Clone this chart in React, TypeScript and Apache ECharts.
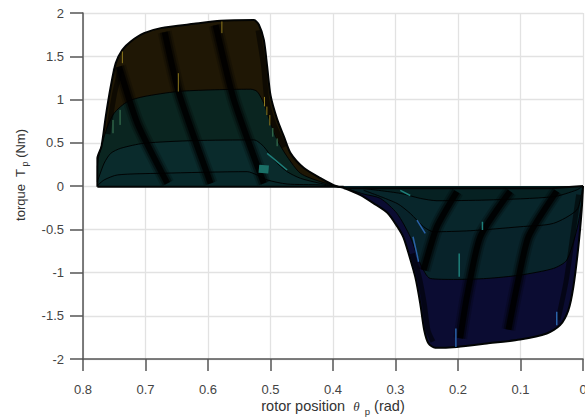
import React, { useEffect, useRef } from "react";
import * as echarts from "echarts";

type P = [number, number];
const xTicks = [0, 0.1, 0.2, 0.3, 0.4, 0.5, 0.6, 0.7, 0.8];
const yTicks = [-2, -1.5, -1, -0.5, 0, 0.5, 1, 1.5, 2];

const pos1: P[] = [[0.777,-0.01],[0.777,0.32],[0.7705,0.455],[0.7636,0.803],[0.7556,1.15],[0.7476,1.42],[0.737,1.574],[0.7236,1.671],[0.7024,1.767],[0.6757,1.825],[0.6225,1.875],[0.58,1.91],[0.5266,1.918],[0.5186,1.864],[0.5107,1.69],[0.5053,1.38],[0.5,1.05],[0.4893,0.77],[0.479,0.58],[0.468,0.38],[0.447,0.21],[0.42,0.09],[0.399,0.01],[0.383,-0.02]];
const pos2: P[] = [[0.777,0.05],[0.777,0.224],[0.7636,0.629],[0.7503,0.841],[0.7289,0.976],[0.7024,1.034],[0.6491,1.092],[0.5958,1.111],[0.5319,1.119],[0.5213,1.092],[0.5107,0.957],[0.5,0.725],[0.4893,0.533],[0.4734,0.34],[0.4521,0.147],[0.42,0.05],[0.383,-0.02]];
const pos3: P[] = [[0.777,0.05],[0.7662,0.263],[0.7556,0.378],[0.7396,0.436],[0.7024,0.494],[0.6225,0.525],[0.5266,0.533],[0.5107,0.455],[0.4947,0.301],[0.4734,0.166],[0.4521,0.089],[0.42,0.03],[0.383,-0.02]];
const pos4: P[] = [[0.777,0.004],[0.7662,0.07],[0.7449,0.128],[0.6757,0.147],[0.5373,0.166],[0.5213,0.127],[0.5053,0.07],[0.4734,0.023],[0.42,0.012],[0.383,-0.02]];

const neg1: P[] = [[0.383,-0.02],[0.356,-0.105],[0.335,-0.2],[0.313,-0.31],[0.297,-0.47],[0.2875,-0.59],[0.279,-0.78],[0.2684,-1.05],[0.2604,-1.358],[0.254,-1.667],[0.2471,-1.821],[0.2364,-1.871],[0.2018,-1.86],[0.1539,-1.821],[0.1006,-1.775],[0.058,-1.705],[0.0367,-1.609],[0.0234,-1.435],[0.0154,-1.165],[0.0074,-0.702],[0.0021,-0.278],[0,0]];
const neg2: P[] = [[0.383,-0.02],[0.3509,-0.093],[0.3243,-0.143],[0.2976,-0.317],[0.2764,-0.587],[0.2604,-0.895],[0.2444,-1.069],[0.2071,-1.08],[0.1539,-1.069],[0.1006,-1.03],[0.0474,-0.953],[0.026,-0.857],[0.0101,-0.509],[0.0021,-0.201],[0,-0.008]];
const neg3: P[] = [[0.3509,-0.05],[0.2976,-0.201],[0.2764,-0.317],[0.255,-0.471],[0.2391,-0.529],[0.1805,-0.517],[0.1006,-0.471],[0.0474,-0.432],[0.0101,-0.278],[0.0021,-0.085],[0,0]];
const neg4: P[] = [[0.3509,-0.03],[0.2923,-0.085],[0.2604,-0.143],[0.2337,-0.17],[0.1539,-0.162],[0.0474,-0.124],[0.0101,-0.046],[0,0]];

const posBase: P[] = [[0.777,-0.01],[0.383,-0.01]];
const negBase: P[] = [[0.383,-0.025],[0.05,-0.025],[0,0]];

const stripes: P[][] = [
  [[0.7423,1.38],[0.713,0.725],[0.665,0.03]],
  [[0.6693,1.78],[0.6465,1.073],[0.5958,0.03]],
  [[0.5879,1.86],[0.5586,0.996],[0.5107,0.03]],
  [[0.255,-0.972],[0.2337,-0.471],[0.2018,-0.066]],
  [[0.1965,-1.76],[0.1858,-1.281],[0.1645,-0.587],[0.1166,-0.06]],
  [[0.1193,-1.66],[0.1059,-1.165],[0.0873,-0.587],[0.042,-0.06]],
];
const edgeBands: P[][] = [
  [[0.52,1.8],[0.511,1.38],[0.506,1],[0.495,0.72],[0.478,0.45]],
  [[0.273,-0.78],[0.262,-1.05],[0.254,-1.358],[0.248,-1.667],[0.24,-1.8]],
  [[0.04,-1.55],[0.027,-1.1],[0.015,-0.5],[0.007,-0.1]],
  [[0.76,0.6],[0.75,1.05],[0.74,1.35]],
];

const yellowStreaks: P[][] = [
  [[0.737,1.555],[0.737,1.42]],
  [[0.6475,1.304],[0.6475,1.092]],
  [[0.5778,1.902],[0.5778,1.767]],
  [[0.5096,1.03],[0.5096,0.92]],
  [[0.5058,0.918],[0.5058,0.82]],
  [[0.5011,0.82],[0.5011,0.7]],
];
const greenStreaks: P[][] = [
  [[0.7407,0.88],[0.7407,0.706]],
  [[0.752,0.764],[0.752,0.61]],
  [[0.4963,0.67],[0.4963,0.57]],
  [[0.4894,0.55],[0.4894,0.46]],
];
const tealStreaks: P[][] = [
  [[0.5053,0.378],[0.4734,0.185]],
  [[0.1981,-0.78],[0.1981,-1.05]],
  [[0.1609,-0.413],[0.1609,-0.51]],
  [[0.2923,-0.05],[0.2764,-0.11]],
];
const blueStreaks: P[][] = [
  [[0.2034,-1.648],[0.2034,-1.86]],
  [[0.042,-1.455],[0.042,-1.609]],
  [[0.2657,-0.394],[0.2524,-0.548]],
  [[0.272,-0.587],[0.263,-0.876]],
];
const tealBlock: P[] = [[0.5186,0.2],[0.503,0.19]];

const surface = (data: P[], fill: string, width = 1) => ({
  type: "line", data, showSymbol: false, symbol: "none", silent: true, smooth: 0.25,
  lineStyle: { color: "#020404", width }, areaStyle: { color: fill, opacity: 1 },
});
const stroke = (data: P[], color: string, width: number, opacity = 1, smooth = 0.2) => ({
  type: "line", data, showSymbol: false, symbol: "none", silent: true, smooth,
  lineStyle: { color, width, opacity, cap: "butt" },
});

const option: any = {
  animation: false,
  backgroundColor: "#ffffff",
  grid: { left: 83, right: 2, top: 13, bottom: 59, containLabel: false, outerBoundsMode: "none" },
  xAxis: {
    type: "value", inverse: true, min: 0, max: 0.8, interval: 0.1,
    axisLine: { onZero: false, lineStyle: { color: "#555", width: 1.5 } },
    axisTick: { length: 12, lineStyle: { color: "#555", width: 1.5 } },
    axisLabel: { margin: 24, color: "#444", fontFamily: "Liberation Sans", fontSize: 13, hideOverlap: false,
      formatter: (v: number) => String(xTicks.find((t) => Math.abs(t - v) < 1e-6) ?? v) },
    splitLine: { show: true, lineStyle: { color: "#e2e2e2", width: 1.3 } },
    name: "{a|rotor position  }{t|\u03b8}{s|  p}{a| (rad)}",
    nameLocation: "middle", nameGap: 37, nameMoveOverlap: false,
    nameTextStyle: { rich: {
      a: { fontFamily: "Liberation Sans", fontSize: 14.5, color: "#333" },
      t: { fontFamily: "Liberation Serif", fontStyle: "italic", fontSize: 13, color: "#333" },
      s: { fontFamily: "Liberation Sans", fontSize: 9.5, color: "#333", padding: [10, 0, 0, 0] },
    } },
  },
  yAxis: {
    type: "value", min: -2, max: 2, interval: 0.5, position: "left",
    axisLine: { show: true, onZero: false, lineStyle: { color: "#555", width: 1.5 } },
    axisTick: { show: true, length: 13, lineStyle: { color: "#555", width: 1.5 } },
    axisLabel: { margin: 19, color: "#444", fontFamily: "Liberation Sans", fontSize: 13,
      formatter: (v: number) => String(yTicks.find((t) => Math.abs(t - v) < 1e-6) ?? v) },
    splitLine: { show: true, lineStyle: { color: "#e2e2e2", width: 1.3 } },
    name: "{a|torque  T}{s| p}{a| (Nm)}",
    nameLocation: "middle", nameGap: 54, nameRotate: 90, nameMoveOverlap: false,
    nameTextStyle: { padding: [0, 0, 0, 22], rich: {
      a: { fontFamily: "Liberation Sans", fontSize: 13, color: "#333" },
      s: { fontFamily: "Liberation Sans", fontSize: 9, color: "#333", padding: [8, 0, 0, 0] },
    } },
  },
  series: [
    surface(pos1, "#1f1705", 2),
    surface(pos2, "#0a2520"),
    surface(pos3, "#0a2b2c"),
    surface(pos4, "#08282a"),
    surface(neg1, "#0b0c32", 2),
    surface(neg2, "#08232a"),
    surface(neg3, "#08262b"),
    surface(neg4, "#062122"),
    stroke(posBase, "#020404", 2, 1, 0),
    stroke(negBase, "#020404", 2, 1, 0),
    ...stripes.map((s) => stroke(s, "#000", 14, 0.2)),
    ...stripes.map((s) => stroke(s, "#000", 10, 0.4)),
    ...stripes.map((s) => stroke(s, "#000", 6, 0.85)),
    ...edgeBands.map((s) => stroke(s, "#000", 5, 0.55)),
    stroke(tealBlock, "#1a6f66", 8, 1, 0),
    ...yellowStreaks.map((s) => stroke(s, "#8f7a1e", 1, 1, 0)),
    ...greenStreaks.map((s) => stroke(s, "#3f7f58", 1, 1, 0)),
    ...tealStreaks.map((s) => stroke(s, "#1f7f7a", 1.5, 1, 0)),
    ...blueStreaks.map((s) => stroke(s, "#2a62a8", 1.5, 1, 0)),
  ],
};

export default function App() {
  const ref = useRef<HTMLDivElement>(null);
  useEffect(() => {
    document.body.style.margin = "0";
    const chart = echarts.init(ref.current!, undefined, { renderer: "svg" });
    chart.setOption(option);
    return () => chart.dispose();
  }, []);
  return <div ref={ref} style={{ width: 585, height: 418 }} />;
}
